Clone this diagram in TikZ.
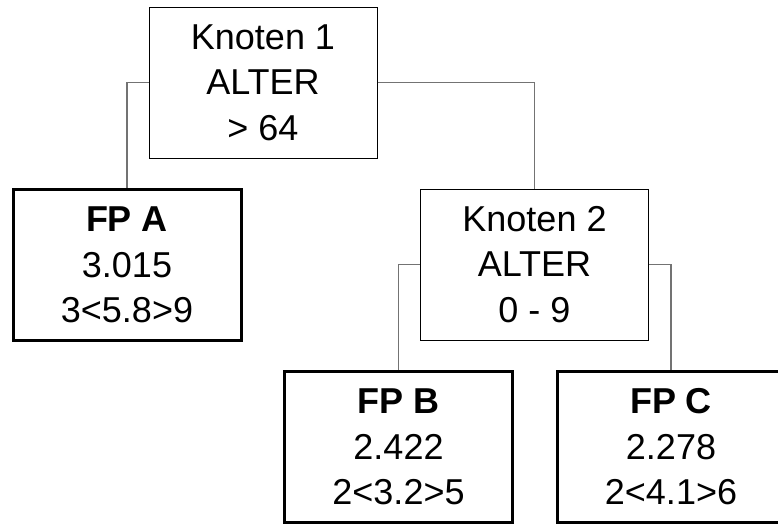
\documentclass[tikz,border=0pt]{standalone}
\usepackage{fontspec}
\setmainfont{Liberation Sans}
\usetikzlibrary{positioning}

\begin{document}
\begin{tikzpicture}[x=1pt, y=-1pt,
  knoten/.style={draw, line width=1pt, rectangle, minimum width=228pt, minimum height=151pt,
    align=center, font=\fontsize{36}{45.5}\selectfont, inner sep=0pt},
  blatt/.style={knoten, line width=3pt},
  ast/.style={draw=black!55, line width=1.3pt}]
\clip (0,0) rectangle (778,523);
\node[knoten] (k1) at (263, 82.5) {Knoten 1\\ALTER\\> 64};
\node[blatt] (fpa) at (127, 265) {\textbf{FP A}\\3.015\\3<5.8>9};
\node[knoten] (k2) at (534.5, 264.5) {Knoten 2\\ALTER\\0 - 9};
\node[blatt] (fpb) at (398.5, 447) {\textbf{FP B}\\2.422\\2<3.2>5};
\node[blatt] (fpc) at (671, 447) {\textbf{FP C}\\2.278\\2<4.1>6};
\draw[ast] (k1.west) -| (fpa.north);
\draw[ast] (k1.east) -| (k2.north);
\draw[ast] (k2.west) -| (fpb.north);
\draw[ast] (k2.east) -| (fpc.north);
\end{tikzpicture}
\end{document}
